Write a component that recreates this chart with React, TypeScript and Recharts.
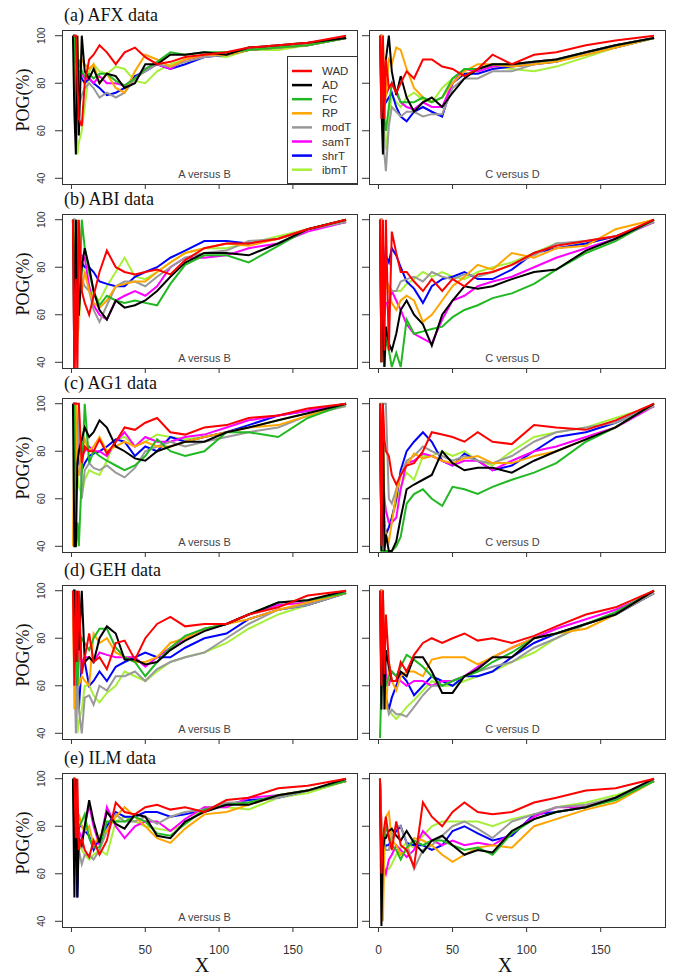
import React from "react";
import { LineChart, Line, XAxis, YAxis } from "recharts";

// shared x positions (sampled along the curves)
const xs = [1, 2, 3, 4, 5, 7, 9, 12, 15, 19, 24, 30, 36, 43, 50, 58, 67, 77, 90, 105, 120, 140, 160, 186];

const methods = ["WAD", "AD", "FC", "RP", "modT", "samT", "shrT", "ibmT"];
const methodColors = ["#ff0000", "#000000", "#22b822", "#ffa500", "#999999", "#ff00ff", "#0000ff", "#a6f03a"];

const xTicks = [0, 50, 100, 150];
const yTicks = [40, 60, 80, 100];

const titles = ["(a) AFX data", "(b) ABI data", "(c) AG1 data", "(d) GEH data", "(e) ILM data"];

const afxAB = {
  WAD: [100, 100, 100, 80, 65, 62, 80, 90, 92, 96, 93, 88, 93, 95, 91, 88, 89, 91, 92, 93, 95, 96, 97, 100],
  AD: [100, 67, 50, 100, 58, 100, 85, 82, 86, 80, 84, 83, 78, 80, 88, 88, 92, 92, 93, 92, 95, 96, 97, 99],
  FC: [100, 100, 80, 70, 90, 85, 83, 84, 82, 84, 84, 81, 79, 82, 86, 89, 93, 92, 93, 93, 94, 95, 96, 99],
  RP: [100, 100, 66, 100, 75, 90, 88, 86, 88, 80, 84, 78, 76, 85, 92, 90, 87, 90, 92, 92, 94, 95, 96, 99],
  modT: [100, 100, 100, 90, 70, 75, 78, 80, 78, 74, 76, 74, 76, 82, 85, 88, 87, 89, 91, 92, 94, 95, 96, 99],
  samT: [100, 100, 90, 80, 85, 84, 82, 82, 80, 83, 80, 80, 79, 82, 86, 88, 86, 90, 91, 93, 94, 95, 96, 99],
  shrT: [100, 100, 90, 85, 85, 82, 80, 82, 80, 78, 75, 76, 78, 83, 85, 88, 86, 88, 91, 92, 94, 95, 96, 99],
  ibmT: [100, 100, 80, 50, 55, 60, 70, 85, 88, 85, 84, 87, 86, 81, 80, 85, 88, 90, 92, 91, 94, 94, 96, 99],
};

const afxCD = {
  WAD: [100, 65, 100, 65, 90, 78, 80, 76, 80, 85, 82, 90, 90, 87, 86, 83, 86, 92, 88, 92, 93, 96, 98, 100],
  AD: [100, 70, 50, 80, 90, 100, 85, 75, 83, 74, 68, 72, 74, 70, 76, 82, 86, 88, 88, 89, 90, 93, 96, 99],
  FC: [100, 90, 80, 65, 60, 70, 80, 77, 72, 72, 72, 74, 72, 74, 82, 86, 86, 88, 88, 89, 90, 93, 96, 99],
  RP: [100, 100, 100, 70, 75, 90, 88, 95, 94, 86, 78, 74, 72, 74, 80, 85, 88, 88, 87, 88, 89, 92, 95, 99],
  modT: [100, 100, 70, 50, 43, 62, 70, 68, 66, 68, 68, 66, 67, 67, 78, 82, 82, 85, 85, 88, 90, 92, 95, 99],
  samT: [100, 100, 90, 80, 75, 78, 80, 76, 72, 70, 69, 72, 70, 70, 80, 86, 85, 87, 88, 89, 90, 93, 96, 99],
  shrT: [100, 100, 85, 75, 72, 74, 76, 70, 66, 64, 68, 70, 68, 66, 80, 84, 84, 86, 87, 88, 89, 93, 95, 99],
  ibmT: [100, 100, 90, 60, 52, 65, 75, 72, 70, 74, 76, 73, 72, 78, 82, 84, 85, 87, 86, 85, 87, 91, 95, 99],
};

const abiAB = {
  WAD: [100, 35, 75, 35, 100, 70, 65, 60, 68, 78, 87, 80, 78, 77, 78, 79, 77, 83, 88, 90, 90, 92, 96, 100],
  AD: [100, 35, 100, 60, 60, 80, 88, 80, 70, 62, 58, 66, 63, 64, 66, 70, 76, 82, 86, 86, 85, 90, 96, 100],
  FC: [100, 80, 60, 100, 60, 100, 88, 78, 70, 64, 68, 66, 65, 66, 65, 64, 73, 81, 85, 85, 82, 89, 96, 100],
  RP: [100, 75, 100, 60, 75, 70, 78, 70, 65, 63, 66, 72, 73, 74, 74, 78, 82, 86, 88, 90, 89, 92, 96, 100],
  modT: [100, 100, 80, 60, 70, 75, 72, 70, 62, 57, 64, 72, 74, 74, 72, 76, 80, 84, 86, 87, 91, 92, 96, 99],
  samT: [100, 80, 70, 75, 80, 85, 84, 72, 64, 60, 58, 66, 68, 70, 68, 72, 80, 84, 84, 85, 88, 90, 95, 99],
  shrT: [100, 100, 85, 80, 78, 82, 80, 80, 78, 74, 73, 72, 72, 76, 78, 80, 84, 87, 91, 91, 90, 92, 96, 99],
  ibmT: [100, 100, 60, 50, 55, 80, 78, 72, 68, 66, 72, 78, 84, 76, 75, 78, 82, 86, 88, 88, 90, 93, 96, 99],
};

const abiCD = {
  WAD: [100, 40, 100, 45, 100, 45, 95, 86, 78, 78, 74, 70, 75, 70, 75, 72, 77, 78, 81, 86, 89, 91, 93, 100],
  AD: [100, 40, 75, 38, 55, 48, 45, 52, 62, 66, 60, 56, 47, 60, 66, 72, 71, 72, 75, 78, 79, 87, 92, 100],
  FC: [100, 40, 60, 38, 50, 45, 38, 44, 38, 58, 52, 53, 54, 55, 59, 62, 64, 67, 69, 73, 79, 86, 91, 100],
  RP: [100, 100, 60, 75, 75, 70, 65, 62, 66, 68, 66, 57, 60, 66, 72, 76, 81, 79, 86, 84, 88, 89, 96, 100],
  modT: [100, 100, 80, 70, 75, 72, 70, 70, 74, 75, 76, 74, 78, 76, 75, 77, 76, 78, 81, 85, 90, 91, 93, 99],
  samT: [100, 100, 70, 60, 65, 65, 70, 66, 62, 56, 52, 50, 48, 58, 66, 68, 72, 74, 76, 80, 84, 88, 92, 99],
  shrT: [100, 100, 90, 80, 85, 82, 88, 85, 80, 74, 71, 65, 72, 75, 76, 78, 75, 75, 79, 86, 88, 90, 93, 99],
  ibmT: [100, 100, 80, 75, 72, 70, 70, 70, 70, 73, 75, 78, 76, 78, 76, 75, 78, 80, 82, 86, 90, 90, 93, 99],
};

const ag1AB = {
  WAD: [100, 100, 100, 100, 100, 75, 82, 80, 80, 85, 79, 84, 90, 89, 92, 94, 88, 87, 90, 91, 94, 95, 98, 100],
  AD: [100, 40, 40, 75, 80, 85, 90, 86, 88, 93, 90, 82, 80, 77, 76, 80, 82, 84, 84, 88, 90, 93, 96, 100],
  FC: [100, 100, 40, 50, 40, 70, 100, 75, 80, 78, 76, 74, 72, 74, 78, 85, 80, 78, 80, 88, 88, 86, 94, 100],
  RP: [40, 100, 100, 70, 70, 80, 85, 80, 82, 86, 80, 82, 84, 82, 84, 82, 82, 84, 86, 88, 90, 91, 95, 100],
  modT: [100, 100, 70, 75, 100, 60, 72, 75, 73, 72, 74, 71, 69, 73, 80, 82, 84, 82, 84, 86, 88, 90, 95, 99],
  samT: [100, 100, 100, 85, 80, 78, 80, 82, 80, 80, 78, 84, 88, 82, 86, 84, 84, 86, 87, 90, 93, 95, 97, 100],
  shrT: [100, 100, 100, 80, 75, 72, 75, 78, 79, 80, 82, 85, 84, 78, 82, 80, 86, 84, 86, 88, 91, 95, 97, 100],
  ibmT: [100, 100, 80, 70, 65, 62, 68, 72, 71, 70, 76, 85, 86, 82, 84, 87, 86, 85, 86, 88, 90, 93, 96, 99],
};

const ag1CD = {
  WAD: [100, 40, 100, 85, 80, 78, 70, 66, 70, 74, 75, 80, 88, 87, 86, 84, 88, 84, 83, 91, 90, 89, 93, 100],
  AD: [100, 38, 100, 38, 45, 38, 38, 42, 52, 64, 66, 68, 70, 80, 75, 72, 73, 73, 71, 76, 80, 85, 90, 100],
  FC: [100, 38, 38, 38, 38, 38, 38, 40, 44, 58, 62, 64, 60, 57, 65, 64, 62, 65, 68, 71, 75, 84, 90, 100],
  RP: [100, 60, 100, 50, 45, 42, 50, 62, 70, 74, 79, 77, 78, 76, 75, 77, 78, 75, 75, 78, 80, 85, 90, 100],
  modT: [100, 100, 100, 100, 100, 60, 58, 64, 70, 76, 78, 82, 80, 78, 76, 78, 76, 75, 78, 84, 88, 90, 92, 99],
  samT: [100, 90, 70, 60, 55, 50, 50, 52, 64, 75, 76, 79, 78, 76, 74, 76, 76, 72, 76, 80, 82, 86, 90, 99],
  shrT: [100, 40, 60, 50, 45, 48, 52, 60, 72, 80, 84, 88, 84, 76, 74, 79, 76, 72, 74, 80, 86, 88, 92, 99],
  ibmT: [100, 100, 80, 60, 55, 50, 52, 58, 65, 71, 68, 78, 78, 80, 78, 80, 76, 74, 80, 86, 88, 90, 94, 99],
};

const gehAB = {
  WAD: [100, 60, 100, 70, 100, 65, 72, 82, 70, 72, 67, 78, 79, 71, 80, 86, 89, 85, 86, 86, 90, 93, 98, 100],
  AD: [100, 100, 70, 100, 75, 100, 70, 72, 70, 80, 85, 82, 71, 71, 69, 70, 75, 79, 83, 86, 90, 95, 96, 100],
  FC: [100, 100, 80, 60, 70, 80, 78, 75, 80, 84, 84, 76, 72, 70, 64, 70, 76, 81, 84, 86, 90, 95, 96, 99],
  RP: [100, 50, 100, 75, 60, 64, 62, 60, 82, 78, 80, 74, 72, 70, 70, 72, 78, 80, 84, 86, 88, 92, 95, 99],
  modT: [100, 70, 40, 60, 50, 40, 55, 56, 52, 60, 58, 64, 64, 66, 62, 67, 70, 72, 74, 80, 86, 92, 94, 99],
  samT: [100, 100, 80, 70, 75, 70, 72, 72, 70, 74, 73, 72, 72, 72, 68, 72, 76, 80, 84, 86, 90, 94, 95, 99],
  shrT: [100, 100, 70, 60, 50, 70, 70, 60, 62, 66, 62, 68, 70, 72, 74, 72, 72, 76, 80, 82, 88, 92, 94, 99],
  ibmT: [100, 100, 60, 40, 45, 50, 60, 60, 56, 53, 57, 60, 66, 64, 62, 66, 70, 72, 74, 78, 84, 90, 94, 99],
};

const gehCD = {
  WAD: [100, 60, 100, 65, 90, 70, 62, 62, 70, 66, 73, 78, 80, 78, 80, 82, 79, 80, 78, 81, 85, 90, 93, 100],
  AD: [100, 50, 100, 50, 75, 68, 62, 62, 66, 64, 72, 72, 66, 57, 57, 64, 67, 72, 72, 80, 82, 86, 90, 100],
  FC: [38, 60, 75, 60, 60, 64, 66, 64, 68, 73, 71, 68, 64, 60, 62, 64, 66, 70, 74, 80, 82, 86, 91, 100],
  RP: [100, 100, 100, 60, 50, 70, 62, 58, 64, 66, 66, 64, 71, 72, 72, 72, 69, 72, 76, 80, 82, 84, 90, 100],
  modT: [100, 100, 80, 60, 55, 48, 50, 48, 48, 47, 51, 56, 60, 60, 62, 64, 66, 68, 70, 76, 80, 86, 90, 99],
  samT: [100, 100, 80, 70, 65, 60, 66, 64, 62, 60, 62, 62, 60, 62, 62, 64, 68, 72, 76, 80, 84, 88, 92, 99],
  shrT: [100, 100, 70, 60, 55, 50, 55, 60, 65, 62, 56, 60, 64, 62, 60, 64, 64, 66, 72, 78, 82, 86, 90, 99],
  ibmT: [100, 100, 70, 60, 55, 50, 48, 46, 48, 51, 54, 58, 62, 60, 60, 62, 64, 66, 70, 74, 80, 86, 90, 99],
};

const ilmAB = {
  WAD: [100, 100, 75, 100, 70, 75, 70, 67, 74, 68, 74, 90, 86, 85, 88, 89, 87, 88, 86, 91, 92, 96, 97, 100],
  AD: [100, 50, 100, 50, 75, 72, 80, 91, 82, 73, 86, 81, 79, 85, 84, 76, 75, 82, 86, 89, 89, 93, 95, 100],
  FC: [100, 75, 100, 80, 80, 82, 85, 75, 71, 71, 82, 82, 82, 84, 82, 77, 76, 81, 87, 89, 90, 93, 95, 99],
  RP: [100, 100, 90, 80, 85, 80, 78, 80, 72, 76, 78, 84, 88, 84, 80, 75, 73, 79, 85, 86, 89, 93, 95, 99],
  modT: [100, 100, 80, 75, 70, 64, 68, 68, 66, 70, 78, 85, 82, 82, 84, 81, 84, 86, 87, 90, 90, 92, 95, 99],
  samT: [100, 100, 85, 80, 78, 75, 80, 89, 80, 72, 88, 80, 75, 80, 82, 82, 78, 83, 88, 88, 92, 93, 95, 99],
  shrT: [100, 100, 80, 50, 80, 80, 78, 76, 70, 75, 80, 86, 84, 84, 86, 86, 84, 85, 87, 89, 91, 92, 95, 99],
  ibmT: [100, 100, 80, 75, 72, 70, 68, 66, 68, 70, 68, 82, 84, 82, 80, 79, 78, 81, 88, 88, 87, 92, 94, 99],
};

const ilmCD = {
  WAD: [100, 60, 75, 80, 84, 75, 70, 82, 72, 70, 63, 90, 84, 80, 86, 90, 86, 85, 86, 90, 92, 95, 96, 100],
  AD: [100, 38, 70, 75, 75, 78, 79, 76, 74, 78, 73, 69, 74, 76, 72, 68, 70, 69, 78, 83, 86, 88, 92, 100],
  FC: [100, 60, 70, 75, 80, 76, 72, 70, 66, 71, 74, 72, 74, 74, 72, 70, 71, 68, 77, 83, 86, 88, 91, 99],
  RP: [100, 80, 40, 70, 84, 86, 74, 72, 68, 70, 75, 74, 72, 68, 65, 68, 71, 72, 71, 80, 83, 87, 90, 99],
  modT: [100, 80, 70, 72, 70, 70, 76, 80, 80, 73, 62, 70, 72, 76, 80, 82, 79, 75, 82, 85, 88, 89, 92, 99],
  samT: [100, 70, 60, 62, 60, 66, 68, 72, 70, 67, 70, 78, 74, 72, 74, 72, 73, 72, 77, 84, 88, 88, 92, 99],
  shrT: [100, 80, 72, 70, 72, 72, 75, 78, 80, 73, 72, 72, 70, 72, 78, 80, 77, 74, 76, 85, 86, 88, 92, 99],
  ibmT: [100, 75, 65, 62, 62, 62, 64, 68, 71, 73, 71, 76, 80, 82, 82, 82, 82, 80, 83, 85, 88, 90, 93, 99],
};

const rows = [
  { ab: afxAB, cd: afxCD },
  { ab: abiAB, cd: abiCD },
  { ab: ag1AB, cd: ag1CD },
  { ab: gehAB, cd: gehCD },
  { ab: ilmAB, cd: ilmCD },
];

// layout
const rowTops = [30, 214, 398, 585, 773];
const PLOT_H = 154;
const TOP_PAD = 10;
const LEFT_X = 62;
const LEFT_W = 295;
const RIGHT_X = 369;
const RIGHT_W = 296;

const SANS = "'Liberation Sans', Arial, sans-serif";
const SERIF = "'Liberation Serif', 'Times New Roman', serif";

const drawOrder = [...methods].reverse();

function toRows(series: Record<string, number[]>) {
  return xs.map((x, i) => {
    const r: Record<string, number> = { x };
    methods.forEach((m) => (r[m] = series[m][i]));
    return r;
  });
}

const NoTick = () => <g />;

function Panel({ series, left, top, plotW, yLabels, xLabels }: any) {
  const yW = yLabels ? 40 : 8;
  const xH = xLabels ? 40 : 6;
  const data = toRows(series);

  const YTick = (p: any) => (
    <text
      x={yW - 20}
      y={p.y}
      transform={`rotate(-90 ${yW - 20} ${p.y})`}
      textAnchor="middle"
      dominantBaseline="central"
      fontSize={10}
      fontFamily={SANS}
      fill="#333"
    >
      {p.payload.value}
    </text>
  );

  const XTick = (p: any) => (
    <text
      x={p.x}
      y={TOP_PAD + PLOT_H + 23}
      textAnchor="middle"
      dominantBaseline="central"
      fontSize={12}
      fontFamily={SANS}
      fill="#333"
    >
      {p.payload.value}
    </text>
  );

  return (
    <div style={{ position: "absolute", left: left - yW, top: top - TOP_PAD }}>
      <LineChart
        width={yW + plotW + 1}
        height={TOP_PAD + PLOT_H + xH}
        data={data}
        margin={{ top: TOP_PAD, right: 1, bottom: 0, left: 0 }}
      >
        <XAxis
          dataKey="x"
          type="number"
          domain={[-6.4, 193.4]}
          ticks={xTicks}
          interval={0}
          allowDataOverflow
          axisLine={false}
          stroke="#333"
          tickSize={5}
          height={xH}
          tick={xLabels ? XTick : NoTick}
        />
        <YAxis
          type="number"
          domain={[37.6, 102.4]}
          ticks={yTicks}
          interval={0}
          allowDataOverflow
          axisLine={false}
          stroke="#333"
          tickSize={7}
          width={yW}
          tick={yLabels ? YTick : NoTick}
        />
        {drawOrder.map((m) => (
          <Line
            key={m}
            dataKey={m}
            type="linear"
            stroke={methodColors[methods.indexOf(m)]}
            strokeWidth={2}
            dot={false}
            isAnimationActive={false}
          />
        ))}
      </LineChart>
    </div>
  );
}

export default function App() {
  return (
    <div style={{ position: "absolute", left: 0, top: 0, width: 685, height: 980, background: "#fff" }}>
      {rows.map((r, i) => (
        <React.Fragment key={i}>
          <Panel series={r.ab} left={LEFT_X} top={rowTops[i]} plotW={LEFT_W} yLabels xLabels={i === 4} />
          <Panel series={r.cd} left={RIGHT_X} top={rowTops[i]} plotW={RIGHT_W} yLabels={false} xLabels={i === 4} />
        </React.Fragment>
      ))}
      <svg width={685} height={980} style={{ position: "absolute", left: 0, top: 0, pointerEvents: "none" }}>
        {rowTops.map((t, i) => (
          <g key={i}>
            <text x={64} y={t - 9} fontSize={18} fontFamily={SERIF} fill="#111">
              {titles[i]}
            </text>
            <text
              transform={`translate(23 ${t + 70}) rotate(-90)`}
              textAnchor="middle"
              dominantBaseline="central"
              fontSize={18}
              fontFamily={SERIF}
              fill="#111"
            >
              POG(%)
            </text>
            <rect x={LEFT_X + 0.5} y={t + 0.5} width={LEFT_W} height={PLOT_H} fill="none" stroke="#333" />
            <rect x={RIGHT_X + 0.5} y={t + 0.5} width={RIGHT_W} height={PLOT_H} fill="none" stroke="#333" />
            <text x={204.5} y={t + PLOT_H - 6} textAnchor="middle" fontSize={11} fontFamily={SANS} fill="#444">
              A versus B
            </text>
            <text x={512.5} y={t + PLOT_H - 6} textAnchor="middle" fontSize={11} fontFamily={SANS} fill="#444">
              C versus D
            </text>
          </g>
        ))}
        <text x={202} y={965} textAnchor="middle" dominantBaseline="central" fontSize={20} fontFamily={SERIF} fill="#111">
          X
        </text>
        <text x={505} y={965} textAnchor="middle" dominantBaseline="central" fontSize={20} fontFamily={SERIF} fill="#111">
          X
        </text>
        <g>
          <rect x={287.5} y={56.5} width={70} height={127} fill="#fff" stroke="#333" />
          {methods.map((m, i) => (
            <g key={m}>
              <line
                x1={292}
                x2={312}
                y1={71 + i * 14.1}
                y2={71 + i * 14.1}
                stroke={methodColors[i]}
                strokeWidth={2.5}
              />
              <text x={322} y={71 + i * 14.1} dominantBaseline="central" fontSize={11.5} fontFamily={SANS} fill="#333">
                {m}
              </text>
            </g>
          ))}
        </g>
      </svg>
    </div>
  );
}
